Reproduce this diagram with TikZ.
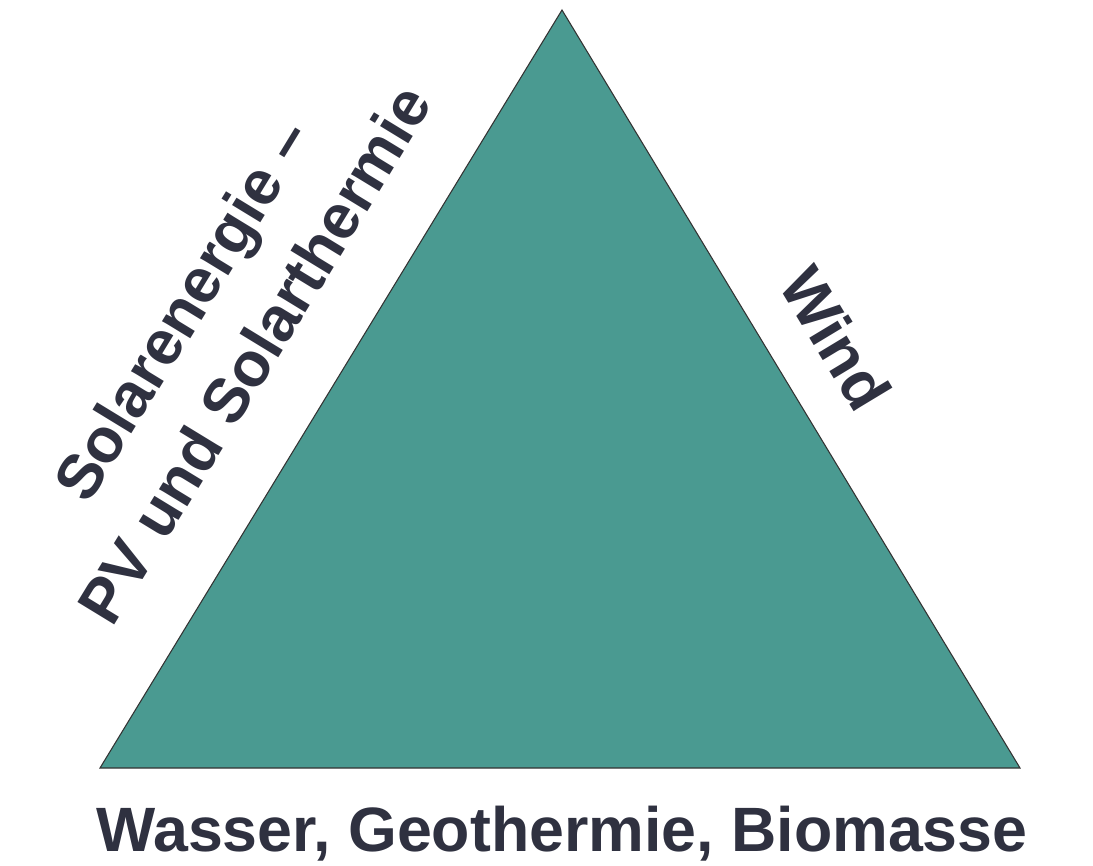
\documentclass[tikz,border=0pt]{standalone}
\usepackage{fontspec}
\setmainfont{Liberation Sans}
\definecolor{teal fill}{HTML}{4A9A91}
\definecolor{label gray}{HTML}{2F3140}
\begin{document}
\begin{tikzpicture}[x=0.75pt, y=-0.75pt,
  sidelabel/.style={font=\fontsize{47}{60}\selectfont\bfseries, text=label gray, inner sep=0pt}]
  \useasboundingbox (0,0) rectangle (1093,865);
  % corners of the triangle
  \coordinate (top) at (562,10);
  \coordinate (bl) at (100,768);
  \coordinate (br) at (1020,768);
  \fill[teal fill] (top) -- (br) -- (bl) -- cycle;
  \draw[black!80, line width=0.8pt] (top) -- (br) -- (bl) -- cycle;
  % labels along the sides
  \node[sidelabel, rotate=58.6, align=center, font=\fontsize{47}{64}\selectfont\bfseries] (solar) at (218,332) {Solarenergie --\\PV und Solarthermie};
  \node[sidelabel, rotate=-58.9] (wind) at (836,338) {Wind};
  \node[sidelabel, anchor=base] (base) at (562,851) {Wasser, Geothermie, Biomasse};
\end{tikzpicture}
\end{document}
